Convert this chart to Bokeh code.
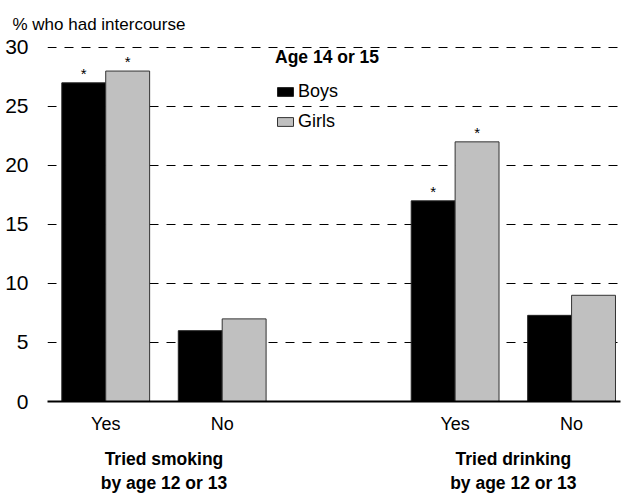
from bokeh.plotting import figure
from bokeh.models import (Range1d, FixedTicker, Legend, LegendItem,
                          ColumnDataSource, LinearAxis)
from bokeh.embed import file_html
from bokeh.resources import INLINE

FONT = "'Liberation Sans Narrow', 'Liberation Sans', Arial, sans-serif"

# Answer categories: Yes / No for each behaviour group
positions = [0, 1, 3, 4]
tick_labels = ["Yes", "No", "Yes", "No"]
group_labels = ["Tried smoking\nby age 12 or 13", "Tried drinking\nby age 12 or 13"]
group_centers = [0.5, 3.5]

# Percent who had intercourse, age 14 or 15
boys = [27, 6, 17, 7.3]
girls = [28, 7, 22, 9.0]
# Statistically significant differences are starred
starred = [True, False, True, False]

bar_w = 0.377
boys_x = [x - bar_w / 2 for x in positions]
girls_x = [x + bar_w / 2 for x in positions]

p = figure(width=624, height=496, output_backend="svg", toolbar_location=None,
           x_range=Range1d(-0.5, 4.42), y_range=Range1d(0, 30.08),
           min_border_left=47, min_border_right=4, min_border_top=46,
           min_border_bottom=95)
p.outline_line_color = None
p.background_fill_color = "white"
p.border_fill_color = "white"

# caption above the plot
p.title.text = "% who had intercourse"
p.title.align = "left"
p.title.offset = -35
p.title.text_font = FONT
p.title.text_font_size = "17px"
p.title.text_font_style = "normal"
p.title.text_color = "black"
p.title.standoff = 25

# grid: dashed horizontal lines only
p.xgrid.grid_line_color = None
p.ygrid.ticker = FixedTicker(ticks=[5, 10, 15, 20, 25, 30])
p.ygrid.grid_line_color = "black"
p.ygrid.grid_line_dash = "9 8"
p.ygrid.grid_line_width = 1

# y axis
p.yaxis.ticker = FixedTicker(ticks=[0, 5, 10, 15, 20, 25, 30])
p.yaxis.axis_line_color = None
p.yaxis.major_tick_line_color = None
p.yaxis.minor_tick_line_color = None
p.yaxis.major_label_text_font = FONT
p.yaxis.major_label_text_font_size = "21px"
p.yaxis.major_label_text_color = "black"
p.yaxis.major_label_standoff = 13

# x axis: Yes / No
p.xaxis.ticker = FixedTicker(ticks=positions)
p.xaxis.major_label_overrides = {pos: lab for pos, lab in zip(positions, tick_labels)}
p.xaxis.axis_line_color = "black"
p.xaxis.axis_line_width = 2
p.xaxis.major_tick_line_color = None
p.xaxis.minor_tick_line_color = None
p.xaxis.major_label_text_font = FONT
p.xaxis.major_label_text_font_size = "18px"
p.xaxis.major_label_text_color = "black"
p.xaxis.major_label_standoff = 6

# second row of labels: behaviour groups
gaxis = LinearAxis(ticker=FixedTicker(ticks=group_centers),
                   major_label_overrides={c: t for c, t in zip(group_centers, group_labels)})
gaxis.axis_line_color = None
gaxis.major_tick_line_color = None
gaxis.minor_tick_line_color = None
gaxis.major_label_text_font = FONT
gaxis.major_label_text_font_size = "17.5px"
gaxis.major_label_text_font_style = "bold"
gaxis.major_label_text_color = "black"
gaxis.major_label_standoff = 6
p.add_layout(gaxis, "below")

src = ColumnDataSource(dict(bx=boys_x, gx=girls_x, boys=boys, girls=girls))
rb = p.vbar(x="bx", top="boys", width=bar_w, bottom=0, source=src,
            fill_color="black", line_color="#222222", line_width=1)
rg = p.vbar(x="gx", top="girls", width=bar_w, bottom=0, source=src,
            fill_color="#c0c0c0", line_color="#333333", line_width=1)

# significance stars
sx, sy = [], []
for i, s in enumerate(starred):
    if s:
        sx += [boys_x[i], girls_x[i]]
        sy += [boys[i], girls[i]]
p.text(x=sx, y=sy, text=["*"] * len(sx), text_align="center",
       text_baseline="bottom", y_offset=-1, text_font_size="15px",
       text_color="black")

legend = Legend(items=[LegendItem(label="Boys", renderers=[rb]),
                       LegendItem(label="Girls", renderers=[rg])],
                title="Age 14 or 15", location=(228, 269),
                orientation="vertical")
legend.title_text_font = FONT
legend.title_text_font_size = "17.5px"
legend.title_text_font_style = "bold"
legend.title_text_color = "black"
legend.title_standoff = 13
legend.label_text_font = FONT
legend.label_text_font_size = "18px"
legend.label_text_color = "black"
legend.label_standoff = 3
legend.glyph_width = 20
legend.glyph_height = 11
legend.label_height = 20
legend.spacing = 9
legend.padding = 0
legend.margin = 0
legend.border_line_color = None
legend.background_fill_alpha = 0
p.add_layout(legend)

open("out.html", "w").write(file_html(p, INLINE))
